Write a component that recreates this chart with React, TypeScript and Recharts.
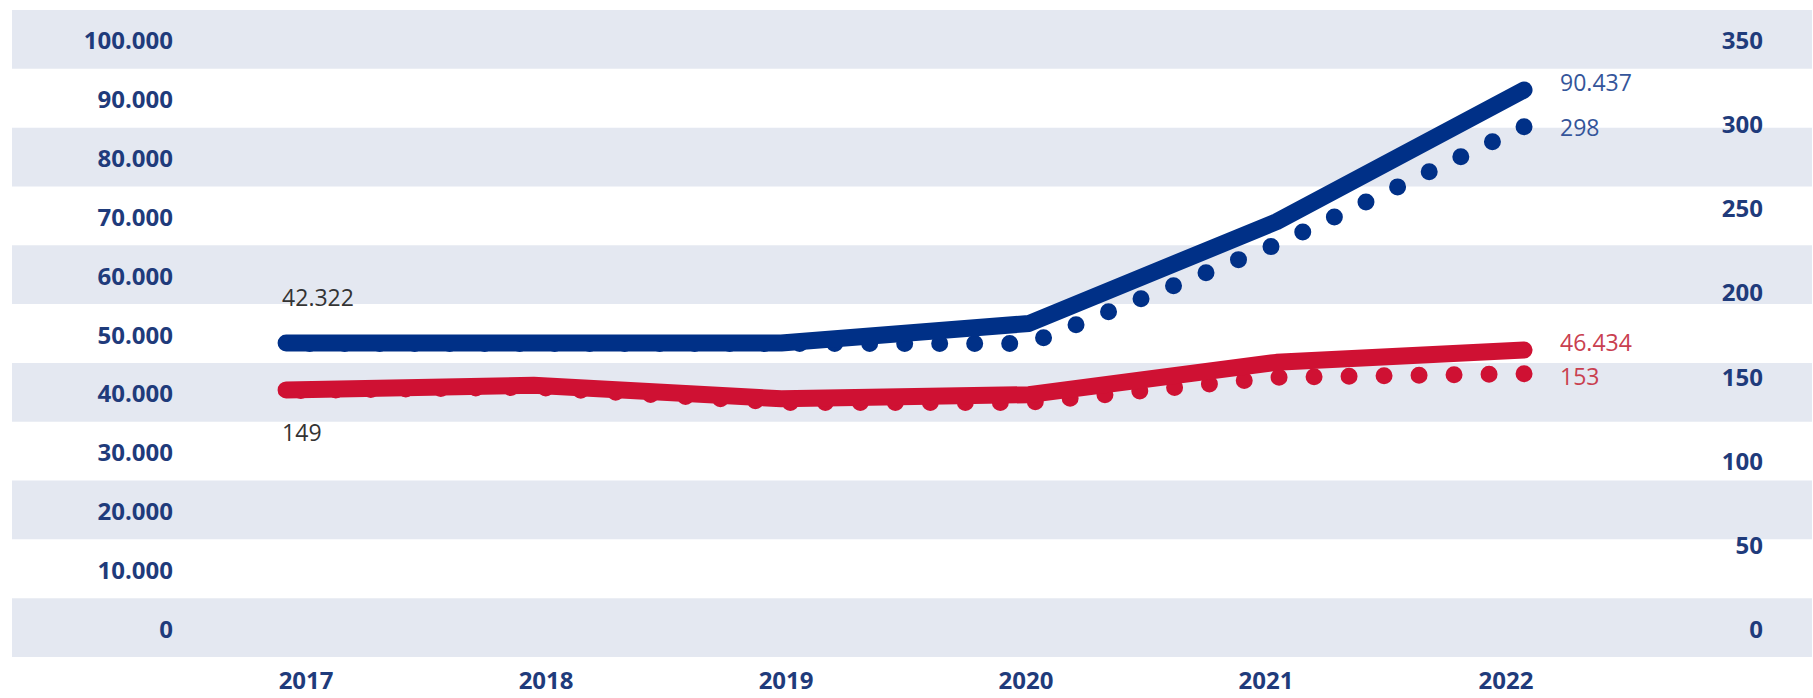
import React, { useEffect, useRef } from 'react';
import { LineChart, Line, XAxis, YAxis, ReferenceArea, LabelList } from 'recharts';

const years = ['2017', '2018', '2019', '2020', '2021', '2022'];
const blueSolid = [48400, 48400, 48400, 51700, 69000, 91400];
const blueDotted = [169, 169, 169, 169, 228, 298];
const redSolid = [40400, 41200, 38900, 39600, 45100, 47200];
const redDotted = [141, 143, 134, 134, 149, 151];

const leftTicks = [0, 10000, 20000, 30000, 40000, 50000, 60000, 70000, 80000, 90000, 100000];
const rightTicks = [0, 50, 100, 150, 200, 250, 300, 350];
const shadedRows = [0, 20000, 40000, 60000, 80000, 100000];

const endLabels = { blueSolid: '90.437', blueDotted: '298', redSolid: '46.434', redDotted: '153' };
const startLabels = { top: '42.322', bottom: '149' };

// x is the year's position (0 = 2017) so the shaded rows can span the whole plot
const data = years.map((year, i) => ({
  x: i,
  year,
  blueSolid: blueSolid[i],
  blueDotted: blueDotted[i],
  redSolid: redSolid[i],
  redDotted: redDotted[i],
}));

const BLUE = '#003087';
const RED = '#cf1133';
const BAND = '#e4e8f1';
const AXIS = '#1f3b7b';
const FONT = '"Open Sans", sans-serif';
const DOT_GAP = 35;

const fmtLeft = (v: number) => (v === 0 ? '0' : `${v / 1000}.000`);

const LeftTick = (props: any) => (
  <text x={props.x + 161} y={props.y + 10} textAnchor="end" fill={AXIS} fontSize={24} fontWeight={700} fontFamily={FONT}>
    {fmtLeft(props.payload.value)}
  </text>
);

const RightTick = (props: any) => (
  <text x={props.x - 49} y={props.y + 10} textAnchor="end" fill={AXIS} fontSize={24} fontWeight={700} fontFamily={FONT}>
    {props.payload.value}
  </text>
);

const YearTick = (props: any) => {
  const i = props.payload.value;
  return (
    <text x={props.x + 20 - 7.6 * i} y={props.y + 32} textAnchor="middle" fill={AXIS} fontSize={24} fontWeight={700} fontFamily={FONT}>
      {years[i]}
    </text>
  );
};

const last = years.length - 1;

const endLabel = (text: string, color: string, dy: number) => (props: any) => {
  if (props.index !== last) return null;
  return (
    <text x={props.x + 36} y={props.y + dy + 8} fill={color} fontSize={23} fontFamily={FONT}>
      {text}
    </text>
  );
};

const startLabel = (text: string, dy: number) => (props: any) => {
  if (props.index !== 0) return null;
  return (
    <text x={props.x - 4} y={props.y + dy + 8} fill="#333" fontSize={23} fontFamily={FONT}>
      {text}
    </text>
  );
};

export default function App() {
  const rootRef = useRef<HTMLDivElement>(null);

  // shift the dot pattern so the dotted series finish with a dot on 2022
  useEffect(() => {
    const root = rootRef.current;
    if (!root) return;
    const align = () => {
      root.querySelectorAll<SVGPathElement>('.dotted-series path.recharts-line-curve').forEach((p) => {
        const len = p.getTotalLength();
        const off = ((DOT_GAP - (len % DOT_GAP)) % DOT_GAP).toFixed(2);
        if (p.style.strokeDashoffset !== off) p.style.strokeDashoffset = off;
      });
    };
    const obs = new MutationObserver(align);
    obs.observe(root, { subtree: true, childList: true, attributes: true, attributeFilter: ['d'] });
    let frames = 0;
    let id = 0;
    const loop = () => {
      align();
      if (frames++ < 120) id = requestAnimationFrame(loop);
    };
    loop();
    return () => {
      obs.disconnect();
      cancelAnimationFrame(id);
    };
  }, []);

  return (
    <div ref={rootRef} style={{ position: 'absolute', left: 0, top: 0, width: 1813, height: 698, background: '#fff' }}>
      <LineChart width={1813} height={698} data={data} margin={{ top: 10, right: 0, bottom: 11, left: 11 }}>
        <XAxis
          dataKey="x"
          type="number"
          domain={[-1.107, 6.163]}
          ticks={[0, 1, 2, 3, 4, 5]}
          allowDataOverflow
          axisLine={false}
          tickLine={false}
          tickSize={0}
          tickMargin={0}
          height={30}
          tick={<YearTick />}
          interval={0}
        />
        <YAxis
          yAxisId="left"
          domain={[-5000, 105000]}
          ticks={leftTicks}
          width={1}
          axisLine={false}
          tickLine={false}
          tickSize={0}
          tickMargin={0}
          tick={<LeftTick />}
          interval={0}
          allowDataOverflow
        />
        <YAxis
          yAxisId="right"
          orientation="right"
          domain={[-17.5, 367.5]}
          ticks={rightTicks}
          width={1}
          axisLine={false}
          tickLine={false}
          tickSize={0}
          tickMargin={0}
          tick={<RightTick />}
          interval={0}
          allowDataOverflow
        />
        {shadedRows.map((v) => (
          <ReferenceArea
            key={v}
            yAxisId="left"
            y1={v - 5000}
            y2={v + 5000}
            fill={BAND}
            fillOpacity={1}
            stroke="none"
            ifOverflow="visible"
          />
        ))}
        <Line
          className="dotted-series"
          yAxisId="right"
          dataKey="blueDotted"
          type="linear"
          stroke={BLUE}
          strokeWidth={17}
          strokeLinecap="round"
          strokeDasharray={`0 ${DOT_GAP}`}
          dot={false}
          activeDot={false}
          isAnimationActive={false}
        >
          <LabelList dataKey="blueDotted" content={endLabel(endLabels.blueDotted, '#34559a', 1)} />
        </Line>
        <Line
          className="dotted-series"
          yAxisId="right"
          dataKey="redDotted"
          type="linear"
          stroke={RED}
          strokeWidth={17}
          strokeLinecap="round"
          strokeDasharray={`0 ${DOT_GAP}`}
          dot={false}
          activeDot={false}
          isAnimationActive={false}
        >
          <LabelList dataKey="redDotted" content={endLabel(endLabels.redDotted, '#c9404f', 3)} />
        </Line>
        <Line
          yAxisId="left"
          dataKey="blueSolid"
          type="linear"
          stroke={BLUE}
          strokeWidth={17}
          strokeLinecap="round"
          strokeLinejoin="round"
          dot={false}
          activeDot={false}
          isAnimationActive={false}
        >
          <LabelList dataKey="blueSolid" content={endLabel(endLabels.blueSolid, '#34559a', -7)} />
          <LabelList dataKey="blueSolid" content={startLabel(startLabels.top, -45)} />
        </Line>
        <Line
          yAxisId="left"
          dataKey="redSolid"
          type="linear"
          stroke={RED}
          strokeWidth={17}
          strokeLinecap="round"
          strokeLinejoin="round"
          dot={false}
          activeDot={false}
          isAnimationActive={false}
        >
          <LabelList dataKey="redSolid" content={endLabel(endLabels.redSolid, '#c9404f', -7)} />
          <LabelList dataKey="redSolid" content={startLabel(startLabels.bottom, 43)} />
        </Line>
      </LineChart>
    </div>
  );
}
